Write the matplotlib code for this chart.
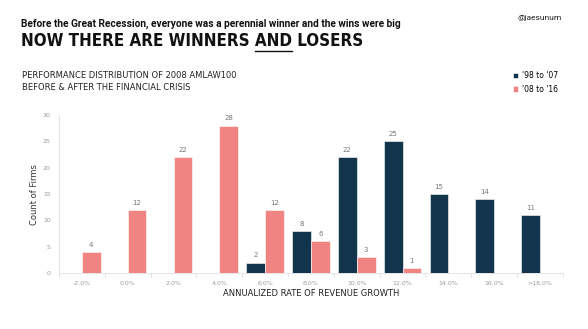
import numpy as np
import matplotlib.pyplot as plt

# Data
categories = ['-2.0%', '0.0%', '2.0%', '4.0%', '6.0%', '8.0%', '10.0%', '12.0%', '14.0%', '16.0%', '>18.0%']
before = [0, 0, 0, 0, 2, 8, 22, 25, 15, 14, 11]   # '98 to '07
after = [4, 12, 22, 28, 12, 6, 3, 1, 0, 0, 0]     # '08 to '16
y_ticks = [0, 5, 10, 15, 20, 25, 30]

dark = '#12344d'
pink = '#f08482'
gray = '#9a9a9a'

fig = plt.figure(figsize=(5.88, 3.29), dpi=100)
ax = fig.add_axes([0.1003, 0.170, 0.857, 0.480])

x = np.arange(len(categories))
w = 0.41
b1 = ax.bar(x - w / 2, before, w, color=dark, edgecolor='white', linewidth=0.4, label="'98 to '07")
b2 = ax.bar(x + w / 2, after, w, color=pink, edgecolor='white', linewidth=0.4, label="'08 to '16")

for xi, v in zip(x, before):
    if v > 0:
        ax.text(xi - w / 2, v + 0.8, str(v), ha='center', va='bottom', fontsize=5, color='#777777')
for xi, v in zip(x, after):
    if v > 0:
        ax.text(xi + w / 2, v + 0.8, str(v), ha='center', va='bottom', fontsize=5, color='#777777')

ax.set_xlim(-0.5, len(categories) - 0.5)
ax.set_ylim(0, 30)
ax.set_yticks(y_ticks)
ax.set_xticks(x)
ax.set_xticklabels(categories)
ax.set_xticks(np.arange(len(categories) + 1) - 0.5, minor=True)
ax.tick_params(axis='y', labelsize=4.5, colors=gray, length=0, pad=6)
ax.tick_params(axis='x', which='major', labelsize=4.5, colors=gray, length=0, pad=6)
ax.tick_params(axis='x', which='minor', length=3, color='#dddddd', width=0.6)
for s in ['top', 'right']:
    ax.spines[s].set_visible(False)
ax.spines['left'].set_color('#e0e0e0')
ax.spines['bottom'].set_color('#e0e0e0')
ax.spines['left'].set_linewidth(0.6)
ax.spines['bottom'].set_linewidth(0.6)

ax.set_ylabel('Count of Firms', fontsize=6, color='#333333', labelpad=3)
ax.set_xlabel('ANNUALIZED RATE OF REVENUE GROWTH', fontsize=6, color='#222222', labelpad=2)

# Headers
fig.text(0.036, 0.927, 'Before the Great Recession, everyone was a perennial winner and the wins were big',
         fontsize=7.3, fontweight='bold', color='#111111', va='center', family='Roboto')
fig.text(0.88, 0.945, '@jaesunum', fontsize=6, color='#222222', va='center', family='Roboto')

title = 'NOW THERE ARE WINNERS AND LOSERS'
tfont = dict(fontsize=12.2, fontweight='bold', color='#111111', family='DejaVu Sans', fontstretch='condensed')
t = fig.text(0.036, 0.875, title, va='center', **tfont)

# underline "AND"
renderer = fig.canvas.get_renderer()
pre = fig.text(0.036, 0.875, 'NOW THERE ARE WINNERS ', va='center', **tfont)
pre2 = fig.text(0.036, 0.875, 'NOW THERE ARE WINNERS AND', va='center', **tfont)
bb1 = pre.get_window_extent(renderer)
bb2 = pre2.get_window_extent(renderer)
bbt = t.get_window_extent(renderer)
pre.remove()
pre2.remove()
inv = fig.transFigure.inverted()
x0 = inv.transform((bb1.x1, 0))[0]
x1 = inv.transform((bb2.x1, 0))[0]
yb = inv.transform((0, bbt.y0 - 1.0))[1]
fig.add_artist(plt.Line2D([x0, x1], [yb, yb], transform=fig.transFigure, color='#111111', linewidth=1.0))

fig.text(0.037, 0.772, 'PERFORMANCE DISTRIBUTION OF 2008 AMLAW100', fontsize=6, color='#222222', va='center')
fig.text(0.037, 0.733, 'BEFORE & AFTER THE FINANCIAL CRISIS', fontsize=6, color='#222222', va='center')

leg = fig.legend(handles=[b1, b2], loc='upper left', bbox_to_anchor=(0.86, 0.805), frameon=False,
                 fontsize=5.5, handlelength=0.7, handleheight=0.7, handletextpad=0.5, labelspacing=0.6)

fig.savefig('out.png', dpi=100, facecolor='white')
